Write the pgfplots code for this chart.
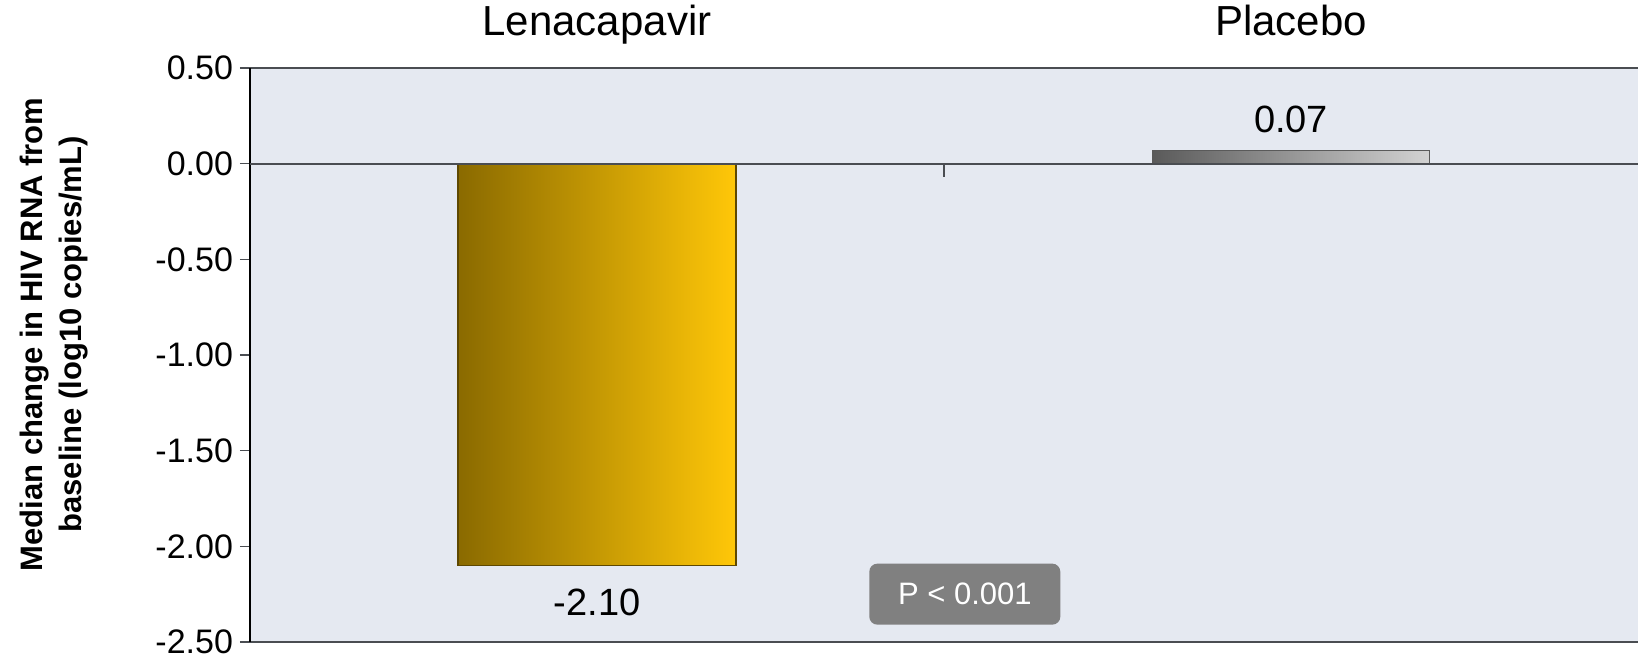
\documentclass[border=0pt]{standalone}
\usepackage{fontspec}
\setmainfont{Liberation Sans}
\usepackage{pgfplots}
\pgfplotsset{compat=1.18}
\usetikzlibrary{calc}
\definecolor{bg}{HTML}{E5E9F1}
\definecolor{goldL}{HTML}{8A6A00}
\definecolor{goldR}{HTML}{FFC708}
\definecolor{goldD}{HTML}{5E4800}
\definecolor{grayL}{HTML}{5A5A5A}
\definecolor{grayR}{HTML}{D2D2D2}
\definecolor{axgray}{HTML}{4A4D52}
\definecolor{pbox}{HTML}{808080}
\begin{document}
\begin{tikzpicture}
\begin{axis}[
  scale only axis, width=694pt, height=287pt,
  xmin=-0.5, xmax=1.5, ymin=-2.5, ymax=0.5,
  axis background/.style={fill=bg},
  axis line style={draw=none},
  xtick={0,1}, xticklabels={Lenacapavir,Placebo},
  xticklabel pos=upper,
  xtick style={draw=none},
  xticklabel style={font=\fontsize{21}{25}\selectfont, anchor=base, yshift=11pt},
  ytick={-2.5,-2,-1.5,-1,-0.5,0,0.5},
  ytick pos=left, tick align=outside, major tick length=5pt,
  ytick style={color=axgray, line width=0.8pt},
  yticklabel style={font=\fontsize{17}{20}\selectfont, /pgf/number format/.cd, fixed, fixed zerofill, precision=2, assume math mode=true},
  ylabel={Median change in HIV RNA from\\baseline (log10 copies/mL)},
  ylabel style={font=\bfseries\fontsize{15.5}{19.5}\selectfont, align=center, at={(axis description cs:-0.141,0.536)}, anchor=center},
  clip=false,
]
\addplot[ybar, bar width=0.4, bar shift=0pt, left color=goldL, right color=goldR, draw=goldD, line width=0.8pt,
  nodes near coords, nodes near coords style={font=\fontsize{19}{22}\selectfont, text=black, yshift=-8pt, /pgf/number format/.cd, fixed, fixed zerofill, precision=2, assume math mode=true}]
  coordinates {(0,-2.10)};
\addplot[ybar, bar width=0.4, bar shift=0pt, left color=grayL, right color=grayR, draw=grayL, line width=0.6pt,
  nodes near coords, nodes near coords style={font=\fontsize{19}{22}\selectfont, text=black, yshift=5pt, /pgf/number format/.cd, fixed, fixed zerofill, precision=2, assume math mode=true}]
  coordinates {(1,0.07)};
\draw[axgray, line width=0.9pt] (rel axis cs:0,1) -- (rel axis cs:1,1);
\draw[axgray, line width=1.2pt] (rel axis cs:0,0) -- (rel axis cs:1,0);
\draw[black, line width=1pt] (rel axis cs:0,0) -- (rel axis cs:0,1);
\draw[axgray, line width=0.9pt] (axis cs:-0.5,0) -- (axis cs:1.5,0);
\draw[axgray, line width=0.8pt] (axis cs:0.5,0) -- ++(0pt,-6.5pt);
\node[fill=pbox, rounded corners=4pt, text=white, minimum width=95.5pt, minimum height=30.5pt, font=\fontsize{15.5}{18}\selectfont] at (axis cs:0.53,-2.25) {P < 0.001};
\end{axis}
\pgfresetboundingbox
\path ($(current axis.south west)+(-125pt,-10pt)$) rectangle ($(current axis.north east)+(0pt,34pt)$);
\end{tikzpicture}
\end{document}
